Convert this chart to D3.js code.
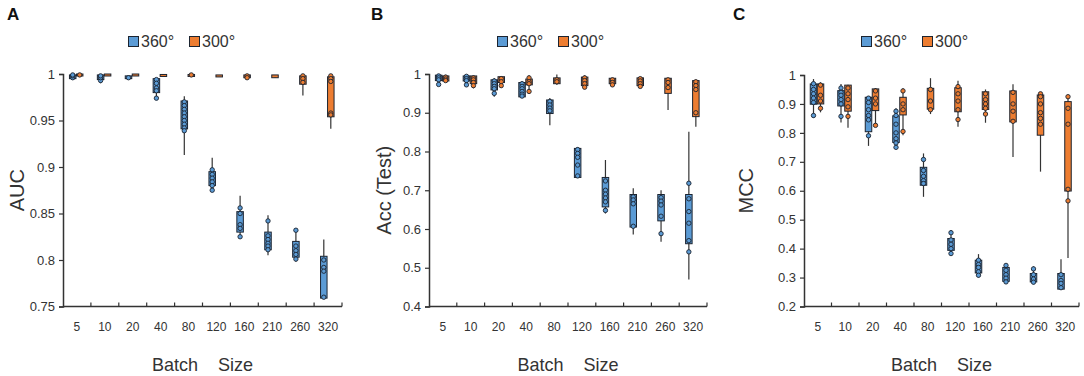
<!DOCTYPE html>
<html><head><meta charset="utf-8">
<script src="https://cdn.jsdelivr.net/npm/d3@7"></script>
<style>
html,body{margin:0;padding:0;background:#fff;}
svg{display:block;font-family:"Liberation Sans",Arial,sans-serif;}
</style></head>
<body>
<svg id="chart" width="1084" height="376"></svg>
<script>
const categories = ["5","10","20","40","80","120","160","210","260","320"];
const seriesNames = ["360°","300°"];
const seriesColors = ["#5b9bd5","#ed7d31"];

// box stats per category: [whiskerLow, q1, q3, whiskerHigh]
const aucBlueBox = [[0.994,0.995,0.999,1.0],[0.990,0.994,0.999,1.0],[0.995,0.995,0.998,0.998],[0.974,0.980,0.995,0.995],[0.913,0.941,0.971,0.976],[0.874,0.880,0.895,0.910],[0.824,0.830,0.852,0.869],[0.805,0.811,0.830,0.848],[0.798,0.803,0.820,0.834],[0.758,0.759,0.804,0.822]];
const aucBluePts = [[0.996,0.998,0.999],[0.993,0.996,0.998],[0.996],[0.994,0.990,0.985,0.982,0.974],[0.970,0.966,0.962,0.958,0.954,0.950,0.946,0.942,0.939],[0.897,0.892,0.888,0.884,0.880,0.875],[0.856,0.850,0.838,0.834,0.825],[0.842,0.826,0.822,0.818,0.815,0.811],[0.832,0.815,0.810,0.806,0.801],[0.800,0.792,0.788,0.760]];
const aucOrangeBox = [[0.998,0.998,1.0,1.0],[0.999,0.999,1.0,1.0],[0.999,0.999,1.0,1.0],[0.998,0.9988,0.9995,1.0],[0.998,0.998,0.9995,0.9995],[0.998,0.998,0.999,0.999],[0.995,0.996,0.999,0.999],[0.996,0.996,0.999,0.999],[0.977,0.989,0.998,0.998],[0.941,0.954,0.997,0.999]];
const aucOrangePts = [[0.999],[],[],[],[0.999],[],[0.998,0.996],[],[0.998,0.995,0.991],[0.998,0.995,0.992,0.958,0.956]];

const accBlueBox = [[0.970,0.983,0.997,0.999],[0.968,0.982,0.995,0.997],[0.941,0.959,0.985,0.990],[0.940,0.941,0.978,0.981],[0.868,0.898,0.933,0.938],[0.733,0.733,0.808,0.811],[0.640,0.657,0.733,0.778],[0.586,0.605,0.689,0.705],[0.567,0.621,0.689,0.700],[0.470,0.562,0.689,0.851]];
const accBluePts = [[0.995,0.990,0.985,0.973],[0.994,0.988,0.983,0.972],[0.982,0.975,0.968,0.962,0.950],[0.975,0.968,0.962,0.955,0.948,0.943],[0.929,0.920,0.912,0.905],[0.805,0.795,0.785,0.765,0.737],[0.724,0.700,0.690,0.680,0.670,0.648],[0.683,0.675,0.665,0.607],[0.681,0.672,0.662,0.633,0.588],[0.718,0.678,0.645,0.615,0.570,0.541]];
const accOrangeBox = [[0.980,0.982,0.995,0.998],[0.963,0.975,0.995,0.996],[0.965,0.978,0.993,0.995],[0.950,0.972,0.987,0.997],[0.972,0.975,0.990,0.999],[0.962,0.970,0.992,0.997],[0.968,0.975,0.989,0.990],[0.966,0.970,0.990,0.992],[0.907,0.950,0.989,0.990],[0.864,0.890,0.983,0.985]];
const accOrangePts = [[0.992,0.987,0.983],[0.990,0.985,0.978,0.970],[0.988,0.980,0.970],[0.990,0.980,0.975,0.955],[0.985,0.980],[0.990,0.983,0.975,0.966],[0.985,0.978,0.972],[0.988,0.982,0.975,0.968],[0.985,0.978,0.965],[0.980,0.970,0.960,0.900]];

const mccBlueBox = [[0.852,0.899,0.969,0.986],[0.836,0.893,0.946,0.969],[0.755,0.804,0.923,0.927],[0.746,0.767,0.859,0.885],[0.579,0.619,0.681,0.729],[0.377,0.394,0.435,0.464],[0.300,0.316,0.360,0.381],[0.280,0.287,0.335,0.348],[0.277,0.285,0.314,0.339],[0.258,0.260,0.314,0.363]];
const mccBluePts = [[0.970,0.950,0.935,0.920,0.905,0.860],[0.955,0.940,0.930,0.915,0.900,0.857],[0.920,0.905,0.880,0.860,0.845,0.790],[0.875,0.860,0.830,0.800,0.780,0.765,0.750],[0.708,0.670,0.650,0.635,0.625],[0.455,0.430,0.415,0.400,0.383],[0.360,0.345,0.335,0.320,0.308],[0.342,0.325,0.310,0.298,0.285],[0.330,0.310,0.295,0.284],[0.310,0.290,0.280,0.265]];
const mccOrangeBox = [[0.871,0.900,0.969,0.975],[0.818,0.875,0.965,0.966],[0.824,0.877,0.952,0.955],[0.792,0.862,0.923,0.954],[0.865,0.882,0.954,0.989],[0.821,0.873,0.956,0.980],[0.835,0.881,0.942,0.950],[0.717,0.838,0.945,0.968],[0.666,0.792,0.931,0.940],[0.368,0.599,0.908,0.931]];
const mccOrangePts = [[0.965,0.930,0.910,0.885],[0.955,0.935,0.915,0.890,0.857],[0.945,0.920,0.900,0.826],[0.945,0.900,0.880,0.805],[0.950,0.910,0.880],[0.960,0.935,0.910,0.880,0.846],[0.935,0.915,0.900,0.885,0.865],[0.940,0.900,0.875,0.840],[0.935,0.925,0.900,0.870,0.850,0.830],[0.925,0.885,0.830,0.605,0.565]];

const aucTicks = [0.75,0.8,0.85,0.9,0.95,1];
const accTicks = [0.4,0.5,0.6,0.7,0.8,0.9,1];
const mccTicks = [0.2,0.3,0.4,0.5,0.6,0.7,0.8,0.9,1];

const panels = [
  {letter:"A", title:"AUC", left:63, right:342, top:74, domain:[0.75,1], ticks:aucTicks, fmt:v=>v===1?"1":String(v), box:[aucBlueBox,aucOrangeBox], pts:[aucBluePts,aucOrangePts], letterX:7, titleX:17, legendX:128},
  {letter:"B", title:"Acc (Test)", left:429, right:707, top:74, domain:[0.4,1], ticks:accTicks, fmt:v=>v===1?"1":String(v), box:[accBlueBox,accOrangeBox], pts:[accBluePts,accOrangePts], letterX:371, titleX:384, legendX:497},
  {letter:"C", title:"MCC", left:804, right:1079, top:75, domain:[0.2,1], ticks:mccTicks, fmt:v=>v===1?"1":String(v), box:[mccBlueBox,mccOrangeBox], pts:[mccBluePts,mccOrangePts], letterX:733, titleX:746, legendX:861}
];
const bottom = 306.5;
const svg = d3.select("#chart");
const axisColor = "#333";
const strokeDark = "#1c2430";

panels.forEach(p=>{
  const g = svg.append("g");
  const x = d3.scaleBand().domain(categories).range([p.left,p.right]);
  const y = d3.scaleLinear().domain(p.domain).range([bottom,p.top]);

  // panel letter
  g.append("text").attr("x",p.letterX).attr("y",20).attr("font-size",17).attr("font-weight","bold").attr("fill","#111").text(p.letter);

  // legend
  const lg = g.append("g").attr("transform",`translate(${p.legendX},36)`);
  seriesNames.forEach((s,i)=>{
    const ox = i*61;
    lg.append("rect").attr("x",ox+0.5).attr("y",0.5).attr("width",10).attr("height",10).attr("fill",seriesColors[i]).attr("stroke",strokeDark).attr("stroke-width",1);
    lg.append("text").attr("x",ox+13).attr("y",11).attr("font-size",16).attr("fill","#333").text(s);
  });

  // y axis
  const ya = d3.axisLeft(y).tickValues(p.ticks).tickFormat(p.fmt).tickSize(4).tickPadding(4);
  const yg = g.append("g").attr("transform",`translate(${p.left},0)`).call(ya);
  yg.select(".domain").attr("stroke",axisColor).attr("stroke-width",1.5);
  yg.selectAll(".tick line").attr("stroke",axisColor).attr("stroke-width",1.2);
  yg.selectAll(".tick text").attr("font-size",13).attr("fill","#333").attr("font-family","Liberation Sans, Arial, sans-serif");

  // x axis line with ticks at band boundaries
  const bounds = categories.map(c=>x(c)).concat([p.right]);
  g.append("line").attr("x1",p.left).attr("x2",p.right).attr("y1",bottom).attr("y2",bottom).attr("stroke",axisColor).attr("stroke-width",1.5);
  g.selectAll(".xt").data(bounds.slice(1)).enter().append("line").attr("x1",d=>d).attr("x2",d=>d).attr("y1",bottom).attr("y2",bottom-4).attr("stroke",axisColor).attr("stroke-width",1.2);
  g.selectAll(".xl").data(categories).enter().append("text")
    .attr("x",d=>x(d)+x.bandwidth()/2).attr("y",331).attr("text-anchor","middle")
    .attr("font-size",12).attr("fill","#333").text(d=>d);

  // x axis title
  const cx = (p.left+p.right)/2;
  g.append("text").attr("transform",`translate(${cx},371) scale(0.95,1)`).attr("text-anchor","middle")
    .attr("font-size",19).attr("fill","#333").style("white-space","pre").text("Batch    Size");

  // y title
  g.append("text").attr("transform",`translate(${p.titleX+7},${(p.top+bottom)/2}) rotate(-90)`).attr("text-anchor","middle")
    .attr("font-size",20).attr("fill","#333").text(p.title);

  // boxes
  [0,1].forEach(si=>{
    const off = si===0 ? -7.5 : -0.5;
    const w = 6.5;
    p.box[si].forEach((b,ci)=>{
      const c = x(categories[ci])+x.bandwidth()/2;
      const bx = c+off;
      const mid = bx+w/2;
      g.append("line").attr("x1",mid).attr("x2",mid).attr("y1",y(b[0])).attr("y2",y(b[3])).attr("stroke","#333").attr("stroke-width",1.2);
      const h = Math.max(2, y(b[1])-y(b[2]));
      g.append("rect").attr("x",bx).attr("y",y(b[2])).attr("width",w).attr("height",h)
        .attr("fill",seriesColors[si]).attr("stroke",strokeDark).attr("stroke-width",1);
      p.pts[si][ci].forEach(v=>{
        g.append("circle").attr("cx",mid).attr("cy",y(v)).attr("r",2.2)
          .attr("fill",seriesColors[si]).attr("stroke",strokeDark).attr("stroke-width",0.9);
      });
    });
  });
});
</script>
</body></html>
